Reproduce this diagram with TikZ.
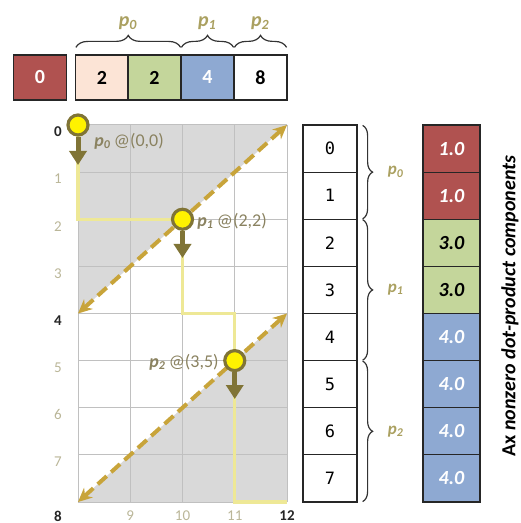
\documentclass[tikz,border=0pt]{standalone}
\usepackage{fontspec}
\setmainfont{Carlito}
\newfontfamily\monofam{DejaVu Sans Mono}
\usepackage{tikz}
\usetikzlibrary{positioning,arrows.meta,calc,decorations.pathreplacing}
\definecolor{redcell}{RGB}{176,82,80}
\definecolor{peachcell}{RGB}{252,228,214}
\definecolor{greencell}{RGB}{196,214,155}
\definecolor{bluecell}{RGB}{142,169,210}
\definecolor{olivedk}{RGB}{128,116,54}
\definecolor{olivetxt}{RGB}{138,130,96}
\definecolor{plabcol}{RGB}{170,160,96}
\definecolor{goldarr}{RGB}{200,164,58}
\definecolor{paleyel}{RGB}{238,232,150}
\definecolor{yellowdot}{RGB}{255,242,0}
\definecolor{shadegray}{RGB}{217,217,217}
\definecolor{gridcol}{RGB}{192,192,192}
\definecolor{ticklt}{RGB}{186,182,152}
\tikzset{
  cell/.style  ={draw=black!85, line width=0.6pt, minimum width=26.5pt, minimum height=22.5pt,
                 inner sep=0pt, font=\fontsize{10}{12}\selectfont\bfseries},
  icell/.style ={draw=black!85, line width=0.6pt, minimum width=27pt, minimum height=23.56pt,
                 inner sep=0pt, font=\monofam\fontsize{8.5}{10}\selectfont},
  vcell/.style ={draw=black!85, line width=0.6pt, minimum width=28.5pt, minimum height=23.56pt,
                 inner sep=0pt, font=\fontsize{10}{12}\selectfont\bfseries\itshape},
  gline/.style ={draw=gridcol, line width=0.5pt},
  tick/.style  ={text=ticklt, font=\fontsize{7.5}{9}\selectfont},
  btick/.style ={text=black!85, font=\fontsize{7.5}{9}\selectfont\bfseries},
  walk/.style  ={draw=paleyel, line width=1.6pt},
  diag/.style  ={{Stealth[length=7pt,width=6.5pt]}-{Stealth[length=7pt,width=6.5pt]},
                 draw=goldarr, line width=2pt, dash pattern=on 6pt off 3pt},
  pmark/.style ={circle, fill=yellowdot, draw=olivedk, line width=1.6pt, minimum size=10pt, inner sep=0pt},
  drop/.style  ={-{Triangle[length=7pt,width=8.5pt]}, draw=olivedk, line width=2.5pt},
  plab/.style  ={text=olivetxt, font=\fontsize{9}{11}\selectfont, inner sep=0pt},
  brc/.style   ={decorate, decoration={brace, amplitude=6pt}, draw=black!80, line width=0.6pt},
  rbrc/.style  ={decorate, decoration={brace, amplitude=5pt}, draw=black!80, line width=0.6pt},
  bl/.style    ={text=plabcol, font=\fontsize{10}{12}\selectfont\bfseries\itshape},
  sbl/.style   ={text=plabcol, font=\fontsize{8.5}{10}\selectfont\bfseries\itshape},
}
\newcommand{\pname}[1]{{\bfseries\itshape p\textsubscript{#1}}}

\begin{document}
\begin{tikzpicture}[x=0.5pt,y=-0.5pt]
\useasboundingbox (0,0) rectangle (520,523);

\node[cell,fill=redcell,text=white] (z0) at (40,77.5) {0};
\node[cell,fill=peachcell] (c1) at (102,77.5) {2};
\node[cell,fill=greencell] (c2) at (154.5,77.5) {2};
\node[cell,fill=bluecell,text=white] (c3) at (207.5,77.5) {4};
\node[cell,fill=white] (c4) at (260.5,77.5) {8};
\draw[brc] ($(c1.north west)+(1,-7)$) -- ($(c2.north east)+(-1,-7)$)
   node[midway,above=5pt,bl] {p\textsubscript{0}};
\draw[brc] ($(c3.north west)+(1,-7)$) -- ($(c3.north east)+(-1,-7)$)
   node[midway,above=5pt,bl] {p\textsubscript{1}};
\draw[brc] ($(c4.north west)+(1,-7)$) -- ($(c4.north east)+(-1,-7)$)
   node[midway,above=5pt,bl] {p\textsubscript{2}};

\coordinate (TL) at (78,125);
\coordinate (TR) at (287,125);
\coordinate (ML) at (78,313.5);
\coordinate (MR) at (287,313.5);
\coordinate (BL) at (78,502);
\coordinate (BR) at (287,502);
\fill[shadegray] (TL) -- (TR) -- (ML) -- cycle;
\fill[shadegray] (BL) -- (MR) -- (BR) -- cycle;
\foreach \c in {0,...,4}
  \draw[gline] ({78+52.25*\c},125) -- ({78+52.25*\c},502);
\foreach \r in {0,...,8}
  \draw[gline] (78,{125+47.125*\r}) -- (287,{125+47.125*\r});

\foreach \r in {1,2,3,5,6,7}
  \node[tick] (row\r) at (58,{132+47.125*\r}) {\r};
\node[btick] (row0) at (58,132) {0};
\node[btick] (row4) at (58,320.5) {4};
\node[btick] (row8) at (58,516) {8};
\node[tick] (col9) at (130.25,516) {9};
\node[tick] (col10) at (182.5,516) {10};
\node[tick] (col11) at (234.75,516) {11};
\node[btick] (col12) at (287,516) {12};

\coordinate (hop) at (234.75,313.5);
\coordinate (p0) at (78,125);
\coordinate (p1) at (182.5,219.25);
\coordinate (p2) at (234.75,360.6);
\draw[walk] (p0) |- (p1) |- (hop) -- (p2) |- (BR);
\draw[diag] (ML) -- (TR);
\draw[diag] (BL) -- (MR);

\coordinate (d0) at (78,165);
\coordinate (d1) at (182.5,258);
\coordinate (d2) at (234.75,399);
\node[pmark] (m0) at (p0) {};
\node[pmark] (m1) at (p1) {};
\node[pmark] (m2) at (p2) {};
\draw[drop] (m0.south) -- (d0);
\draw[drop] (m1.south) -- (d1);
\draw[drop] (m2.south) -- (d2);
\node[plab,anchor=west] (l0) at (94,141) {\pname{0}\,@(0,0)};
\node[plab,anchor=west] (l1) at (197,221) {\pname{1}\,@(2,2)};
\node[plab,anchor=east] (l2) at (219,362) {\pname{2}\,@(3,5)};

\foreach \i in {0,...,7}
  \node[icell] (k\i) at (330,{148.56+47.125*\i}) {\i};
\foreach \i/\v/\f/\t in {0/1.0/redcell/white,1/1.0/redcell/white,2/3.0/greencell/black,
    3/3.0/greencell/black,4/4.0/bluecell/white,5/4.0/bluecell/white,6/4.0/bluecell/white,7/4.0/bluecell/white}
  \node[vcell,fill=\f,text=\t] (v\i) at (451.5,{148.56+47.125*\i}) {\v};
\draw[rbrc] ($(k0.north east)+(5,1)$) -- ($(k1.south east)+(5,-1)$)
   node[midway,right=9pt,sbl] {p\textsubscript{0}};
\draw[rbrc] ($(k2.north east)+(5,1)$) -- ($(k4.south east)+(5,-1)$)
   node[midway,right=9pt,sbl] {p\textsubscript{1}};
\draw[rbrc] ($(k5.north east)+(5,1)$) -- ($(k7.south east)+(5,-1)$)
   node[midway,right=9pt,sbl] {p\textsubscript{2}};

\node[rotate=90,font=\fontsize{10}{12}\selectfont\bfseries] (axlab) at (510,306)
   {Ax \itshape nonzero dot-product components};
\end{tikzpicture}
\end{document}
